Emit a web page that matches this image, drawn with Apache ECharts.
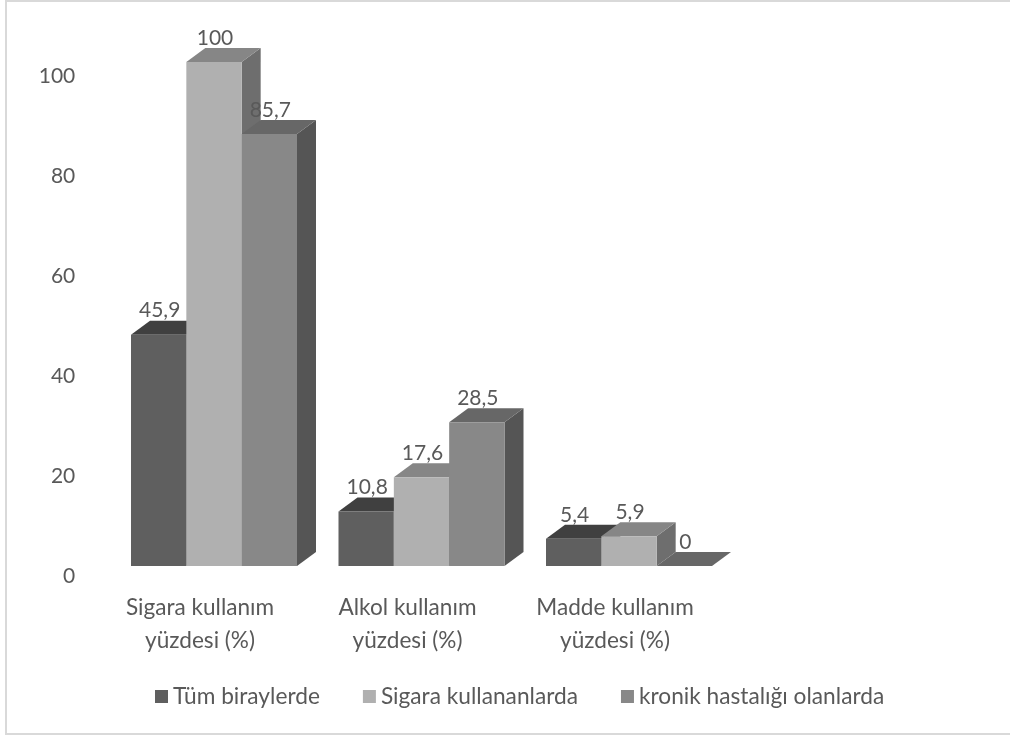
<!DOCTYPE html>
<html>
<head>
<meta charset="utf-8">
<style>html,body{margin:0;padding:0;background:#fff}#c{width:1010px;height:735px}</style>
<script src="https://cdn.jsdelivr.net/npm/echarts@6/dist/echarts.min.js"></script>
</head>
<body>
<div id="c"></div>
<script>
var categories = ['Sigara kullanım\nyüzdesi (%)', 'Alkol kullanım\nyüzdesi (%)', 'Madde kullanım\nyüzdesi (%)'];
var seriesNames = ['Tüm biraylerde', 'Sigara kullananlarda', 'kronik hastalığı olanlarda'];
var allValues = [45.9, 10.8, 5.4];
var smokerValues = [100, 17.6, 5.9];
var chronicValues = [85.7, 28.5, 0];
var frontColors = ['#5f5f5f', '#b0b0b0', '#888888'];
var topColors = ['#404040', '#868686', '#676767'];
var sideColors = ['#474747', '#6e6e6e', '#555555'];
var FONT = 'Lato';
var TEXT = '#595959';
var DX = 19, DY = 14;

function renderer(idx) {
  return function (params, api) {
    var c = api.value(0), v = api.value(1);
    var base = api.coord([c, 0]);
    var top = api.coord([c, v]);
    var w = api.size([1, 0])[0] * 0.8 / 3;
    var x0 = base[0] + (idx - 1.5) * w, x1 = x0 + w;
    var y0 = base[1], y1 = top[1];
    var children = [];
    children.push({type: 'polygon', shape: {points: [[x1, y0], [x1 + DX, y0 - DY], [x1 + DX, y1 - DY], [x1, y1]]}, style: {fill: sideColors[idx]}});
    children.push({type: 'polygon', shape: {points: [[x0, y1], [x1, y1], [x1 + DX, y1 - DY], [x0 + DX, y1 - DY]]}, style: {fill: topColors[idx]}});
    if (y0 > y1) children.push({type: 'rect', shape: {x: x0, y: y1, width: w, height: y0 - y1}, style: {fill: frontColors[idx]}});
    children.push({type: 'text', z2: 100, style: {
      x: (x0 + x1) / 2 + 1, y: y1 - DY - 10, text: String(v).replace('.', ','),
      fill: TEXT, font: '21px ' + FONT, align: 'center', verticalAlign: 'middle'
    }});
    return {type: 'group', children: children};
  };
}

function makeSeries(idx, values) {
  return {
    type: 'custom', name: seriesNames[idx], xAxisIndex: 0, yAxisIndex: 0,
    itemStyle: {color: frontColors[idx]},
    renderItem: renderer(idx), clip: false,
    encode: {x: 0, y: 1},
    data: values.map(function (v, i) { return [i, v]; })
  };
}

var chart = echarts.init(document.getElementById('c'), null, {renderer: 'canvas'});
chart.setOption({
  animation: false,
  backgroundColor: '#fff',
  graphic: [{type: 'rect', z: -1, shape: {x: 6, y: 1, width: 1020, height: 733}, style: {fill: 'none', stroke: '#d9d9d9', lineWidth: 2}}],
  grid: [
    {left: 110.25, width: 622.5, top: 62, height: 504},
    {left: 110.25, width: 622.5, top: 76, height: 500}
  ],
  xAxis: [
    {type: 'category', gridIndex: 0, data: categories, axisLine: {show: false}, axisTick: {show: false},
      axisLabel: {color: TEXT, fontFamily: FONT, fontSize: 22.6, lineHeight: 33, margin: 25, padding: [0, 28, 0, 0], interval: 0}},
    {type: 'category', gridIndex: 1, data: categories, show: false}
  ],
  yAxis: [
    {type: 'value', gridIndex: 0, min: 0, max: 100, show: false},
    {type: 'value', gridIndex: 1, min: 0, max: 100, interval: 20, axisLine: {show: false}, axisTick: {show: false}, splitLine: {show: false},
      axisLabel: {color: TEXT, fontFamily: FONT, fontSize: 21, margin: 35}}
  ],
  legend: {
    left: 150, top: 680, itemWidth: 13, itemHeight: 13, itemGap: 43, icon: 'rect',
    textStyle: {color: TEXT, fontFamily: FONT, fontSize: 22.7},
    data: seriesNames
  },
  series: [makeSeries(0, allValues), makeSeries(1, smokerValues), makeSeries(2, chronicValues)]
});
</script>
</body>
</html>
